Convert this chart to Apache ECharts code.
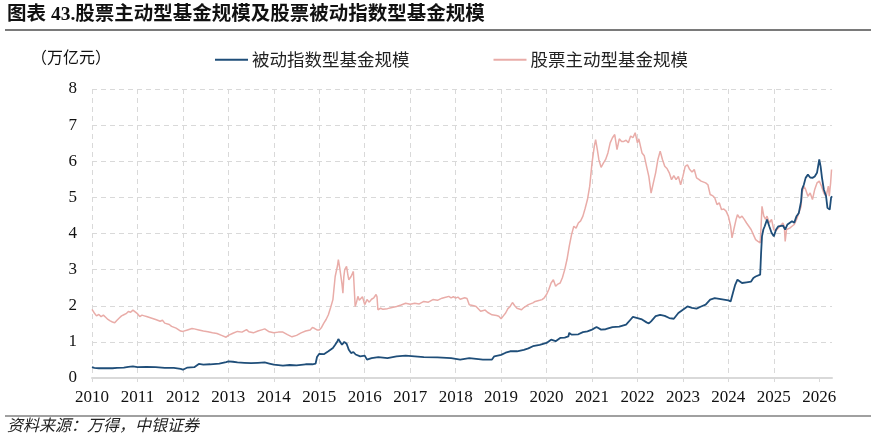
<!DOCTYPE html>
<html>
<head>
<meta charset="utf-8">
<script src="https://cdn.jsdelivr.net/npm/echarts@6/dist/echarts.min.js"></script>
<style>
html,body{margin:0;padding:0;background:#fff;}
#chart{width:876px;height:443px;}
</style>
</head>
<body>
<div id="chart"></div>
<script>
// ---- data (decimal years, 万亿元) ----
const titleText = '图表 43.股票主动型基金规模及股票被动指数型基金规模';
const unitText = '（万亿元）';
const sourceText = '资料来源：万得，中银证券';
const seriesNames = ['被动指数型基金规模', '股票主动型基金规模'];
const yearTicks = [2010,2011,2012,2013,2014,2015,2016,2017,2018,2019,2020,2021,2022,2023,2024,2025,2026];

const activeDates = [
2010.00,2010.05,2010.10,2010.15,2010.20,2010.25,2010.30,2010.35,2010.40,2010.45,2010.50,2010.55,2010.60,2010.65,2010.70,2010.75,2010.80,2010.85,2010.90,2010.94,
2011.00,2011.05,2011.10,2011.15,2011.20,2011.30,2011.40,2011.50,2011.55,2011.60,2011.70,2011.75,2011.85,2011.95,
2012.00,2012.10,2012.20,2012.25,2012.35,2012.45,2012.55,2012.65,2012.75,2012.85,2012.95,
2013.00,2013.10,2013.20,2013.30,2013.40,2013.45,2013.55,2013.65,2013.75,2013.80,2013.90,
2014.00,2014.10,2014.20,2014.30,2014.40,2014.50,2014.60,2014.70,2014.80,2014.85,2014.90,2014.95,
2015.00,2015.05,2015.10,2015.15,2015.20,2015.25,2015.30,2015.35,2015.40,2015.42,2015.45,2015.48,2015.50,2015.52,2015.54,2015.56,2015.60,2015.63,2015.65,2015.70,2015.75,2015.77,2015.79,2015.82,2015.85,2015.88,2015.90,2015.95,
2016.00,2016.05,2016.10,2016.15,2016.20,2016.25,2016.27,2016.29,2016.35,2016.40,2016.50,2016.60,2016.70,2016.80,2016.90,
2017.00,2017.10,2017.20,2017.30,2017.40,2017.50,2017.60,2017.70,2017.80,2017.85,2017.90,2017.95,
2018.00,2018.05,2018.10,2018.20,2018.25,2018.30,2018.40,2018.45,2018.55,2018.65,2018.70,2018.80,2018.90,2018.95,
2019.00,2019.05,2019.10,2019.15,2019.20,2019.25,2019.30,2019.35,2019.45,2019.50,2019.60,2019.70,2019.75,2019.85,2019.90,2019.95,
2020.00,2020.05,2020.10,2020.15,2020.20,2020.25,2020.30,2020.35,2020.40,2020.45,2020.50,2020.55,2020.60,2020.65,2020.70,2020.75,2020.80,2020.85,2020.90,2020.95,
2021.00,2021.05,2021.08,2021.12,2021.15,2021.20,2021.25,2021.30,2021.35,2021.40,2021.45,2021.50,2021.55,2021.60,2021.65,2021.70,2021.75,2021.80,2021.85,2021.90,2021.95,
2022.00,2022.03,2022.06,2022.10,2022.15,2022.20,2022.25,2022.30,2022.35,2022.40,2022.45,2022.50,2022.55,2022.60,2022.65,2022.70,2022.75,2022.80,2022.85,2022.90,2022.95,
2023.00,2023.05,2023.10,2023.15,2023.20,2023.25,2023.30,2023.35,2023.40,2023.50,2023.55,2023.60,2023.65,2023.70,2023.75,2023.80,2023.85,2023.90,2023.95,
2024.00,2024.05,2024.08,2024.12,2024.17,2024.20,2024.25,2024.30,2024.35,2024.40,2024.45,2024.50,2024.55,2024.60,2024.65,2024.70,2024.72,2024.74,2024.78,2024.82,2024.85,2024.90,2024.95,
2025.00,2025.05,2025.10,2025.15,2025.20,2025.23,2025.25,2025.28,2025.35,2025.40,2025.45,2025.50,2025.55,2025.60,2025.62,2025.66,2025.70,2025.75,2025.80,2025.85,2025.90,2025.95,
2026.00,2026.05,2026.10,2026.15,2026.20,2026.22,2026.25,2026.27
];
const activeValues = [
1.90,1.80,1.72,1.76,1.70,1.74,1.68,1.62,1.58,1.55,1.53,1.60,1.66,1.72,1.75,1.78,1.84,1.82,1.88,1.90,
1.78,1.70,1.74,1.72,1.70,1.66,1.62,1.57,1.60,1.52,1.48,1.43,1.38,1.30,
1.29,1.33,1.37,1.36,1.33,1.30,1.28,1.25,1.23,1.18,1.13,
1.18,1.24,1.29,1.27,1.34,1.28,1.25,1.30,1.34,1.36,1.28,
1.25,1.27,1.27,1.20,1.14,1.18,1.25,1.30,1.33,1.40,1.37,1.33,
1.33,1.40,1.52,1.62,1.75,1.95,2.17,2.81,3.10,3.28,3.05,3.00,2.60,2.35,2.80,3.00,3.09,2.85,2.72,2.81,2.95,2.90,1.98,2.10,2.26,2.15,2.12,2.25,
2.03,2.17,2.10,2.18,2.22,2.31,2.25,1.89,1.93,1.90,1.92,1.95,1.98,2.02,2.07,
2.04,2.07,2.05,2.12,2.10,2.17,2.15,2.21,2.24,2.26,2.22,2.25,
2.21,2.24,2.18,2.22,2.20,2.03,2.00,1.98,1.85,1.88,1.82,1.75,1.73,1.71,
1.64,1.72,1.80,1.92,1.98,2.09,2.00,1.93,1.89,1.95,2.03,2.08,2.12,2.15,2.17,2.22,
2.31,2.45,2.63,2.72,2.54,2.60,2.63,2.78,3.00,3.28,3.65,3.97,4.20,4.15,4.29,4.35,4.48,4.70,4.94,5.31,
5.95,6.41,6.60,6.30,6.05,5.83,5.95,6.05,6.23,6.51,6.65,6.74,6.32,6.62,6.55,6.55,6.58,6.51,6.70,6.65,6.79,
6.51,6.62,6.60,6.23,6.15,5.86,5.58,5.12,5.40,5.68,6.05,6.28,6.05,5.86,5.80,5.68,5.49,5.60,5.49,5.58,5.35,
5.58,5.86,5.90,5.77,5.70,5.77,5.54,5.50,5.45,5.40,5.35,5.08,5.05,4.99,4.80,4.85,4.66,4.68,4.62,
4.48,4.20,3.88,4.11,4.39,4.52,4.43,4.48,4.39,4.29,4.20,4.11,3.97,3.83,3.78,3.74,4.20,4.75,4.48,4.39,4.48,4.29,4.39,
4.10,4.08,4.15,4.22,4.29,4.20,3.78,4.11,4.15,4.20,4.25,4.39,4.57,4.75,5.12,5.31,5.22,5.03,5.12,4.94,5.22,5.40,
5.45,5.31,5.12,5.03,5.31,5.03,5.40,5.77
];

const passiveDates = [
2010.00,2010.05,2010.15,2010.30,2010.45,2010.55,2010.70,2010.80,2010.90,
2011.00,2011.20,2011.40,2011.60,2011.80,2011.95,
2012.00,2012.10,2012.25,2012.35,2012.45,2012.60,2012.80,2012.95,
2013.00,2013.10,2013.20,2013.35,2013.50,2013.65,2013.80,2013.90,
2014.00,2014.20,2014.35,2014.50,2014.70,2014.85,2014.92,2014.95,
2015.00,2015.10,2015.20,2015.30,2015.35,2015.40,2015.42,2015.45,2015.50,2015.55,2015.60,2015.63,2015.65,2015.70,2015.75,2015.80,2015.90,
2016.00,2016.05,2016.15,2016.30,2016.50,2016.70,2016.90,
2017.10,2017.30,2017.60,2017.90,
2018.00,2018.10,2018.30,2018.60,2018.80,2018.85,
2019.00,2019.10,2019.20,2019.35,2019.50,2019.60,2019.70,2019.85,
2020.00,2020.10,2020.20,2020.30,2020.40,2020.48,2020.50,2020.55,2020.70,2020.80,2020.90,
2021.00,2021.10,2021.20,2021.30,2021.45,2021.60,2021.75,2021.85,2021.90,
2022.00,2022.10,2022.20,2022.25,2022.30,2022.40,2022.50,2022.60,2022.70,2022.80,2022.90,
2023.00,2023.10,2023.20,2023.30,2023.40,2023.50,2023.60,2023.70,2023.80,2023.90,
2024.00,2024.05,2024.10,2024.15,2024.20,2024.30,2024.40,2024.50,2024.55,2024.60,2024.70,2024.72,2024.74,2024.77,2024.80,2024.85,2024.90,2024.95,
2025.00,2025.05,2025.10,2025.20,2025.25,2025.30,2025.40,2025.45,2025.50,2025.55,2025.60,2025.62,2025.66,2025.70,2025.75,2025.80,2025.85,2025.90,2025.95,
2026.00,2026.03,2026.06,2026.10,2026.15,2026.18,2026.20,2026.23,2026.26,2026.28
];
const passiveValues = [
0.30,0.28,0.27,0.27,0.27,0.28,0.29,0.31,0.32,
0.30,0.31,0.30,0.28,0.28,0.25,
0.23,0.29,0.30,0.39,0.37,0.38,0.40,0.44,
0.46,0.45,0.43,0.42,0.41,0.42,0.43,0.40,
0.37,0.34,0.36,0.35,0.38,0.38,0.40,0.58,
0.67,0.66,0.74,0.83,0.92,1.02,1.08,1.02,0.92,1.00,0.95,0.85,0.78,0.69,0.72,0.65,0.60,
0.62,0.51,0.55,0.58,0.55,0.60,0.62,
0.60,0.58,0.57,0.55,
0.53,0.51,0.55,0.51,0.51,0.60,
0.64,0.70,0.74,0.74,0.78,0.82,0.88,0.92,
0.97,1.06,1.02,1.11,1.12,1.15,1.25,1.20,1.21,1.27,1.29,
1.34,1.41,1.34,1.35,1.41,1.42,1.48,1.62,1.69,
1.66,1.62,1.54,1.51,1.57,1.71,1.75,1.72,1.66,1.64,1.80,
1.89,1.98,1.94,1.92,1.98,2.03,2.17,2.21,2.19,2.17,
2.15,2.12,2.35,2.58,2.72,2.63,2.65,2.67,2.77,2.81,2.86,3.46,3.92,4.11,4.20,4.39,4.20,4.02,
3.92,4.11,4.20,4.22,4.11,4.25,4.34,4.30,4.48,4.57,4.89,5.22,5.35,5.54,5.63,5.55,5.54,5.58,5.68,
6.05,5.85,5.54,5.22,5.03,4.71,4.75,4.66,4.99,5.03
];

const zip = (xs, ys) => xs.map((x, i) => [x, ys[i]]);

const serifCJK = '"Liberation Serif", "Noto Sans CJK SC", serif';
const cjk = '"Noto Sans CJK SC", sans-serif';
const chart = echarts.init(document.getElementById('chart'), null, {renderer: 'canvas'});
chart.setOption({
  animation: false,
  backgroundColor: '#ffffff',
  grid: {left: 92, right: 44, top: 89, bottom: 65, containLabel: false},
  legend: {
    data: seriesNames,
    left: 215, top: 51, padding: 0,
    icon: 'rect', itemWidth: 33, itemHeight: 2, itemGap: 84,
    textStyle: {fontFamily: cjk, fontSize: 17.5, color: '#222', padding: [0, 0, 0, -1]}
  },
  xAxis: {
    type: 'value', min: 2010, max: 2026.28, interval: 1,
    axisLine: {show: true, lineStyle: {color: '#d9d9d9', width: 2}},
    axisTick: {show: true, length: 4, lineStyle: {color: '#d9d9d9'}, customValues: yearTicks},
    axisLabel: {color: '#111', fontFamily: serifCJK, fontSize: 17, margin: 11,
      customValues: yearTicks, formatter: v => String(Math.round(v))},
    splitLine: {show: true, showMaxLine: false, lineStyle: {color: '#d9d9d9', type: [5, 4], width: 1}}
  },
  yAxis: {
    type: 'value', min: 0, max: 8, interval: 1,
    axisLine: {show: false}, axisTick: {show: false},
    axisLabel: {color: '#111', fontFamily: serifCJK, fontSize: 17, margin: 15},
    splitLine: {show: true, lineStyle: {color: '#d9d9d9', type: [5, 4], width: 1}}
  },
  series: [
    {name: seriesNames[1], type: 'line', data: zip(activeDates, activeValues), showSymbol: false,
     color: '#E9ACA8', lineStyle: {width: 1.5, color: '#E9ACA8'}, z: 2},
    {name: seriesNames[0], type: 'line', data: zip(passiveDates, passiveValues), showSymbol: false,
     color: '#1F4E79', lineStyle: {width: 1.8, color: '#1F4E79'}, z: 3}
  ],
  graphic: [
    {type: 'text', left: 7, top: 5, style: {text: titleText, font: 'bold 19.5px ' + serifCJK, fill: '#111'}},
    {type: 'line', shape: {x1: 5, y1: 30, x2: 871, y2: 30}, style: {stroke: '#7a7a7a', lineWidth: 2}},
    {type: 'text', left: 31, top: 49, style: {text: unitText, font: '16px ' + cjk, fill: '#111'}},
    {type: 'line', shape: {x1: 5, y1: 416, x2: 871, y2: 416}, style: {stroke: '#808080', lineWidth: 1.5}},
    {type: 'text', left: 7, top: 419, style: {text: sourceText, font: 'italic 16px ' + serifCJK, fill: '#222'}}
  ]
});
</script>
</body>
</html>
